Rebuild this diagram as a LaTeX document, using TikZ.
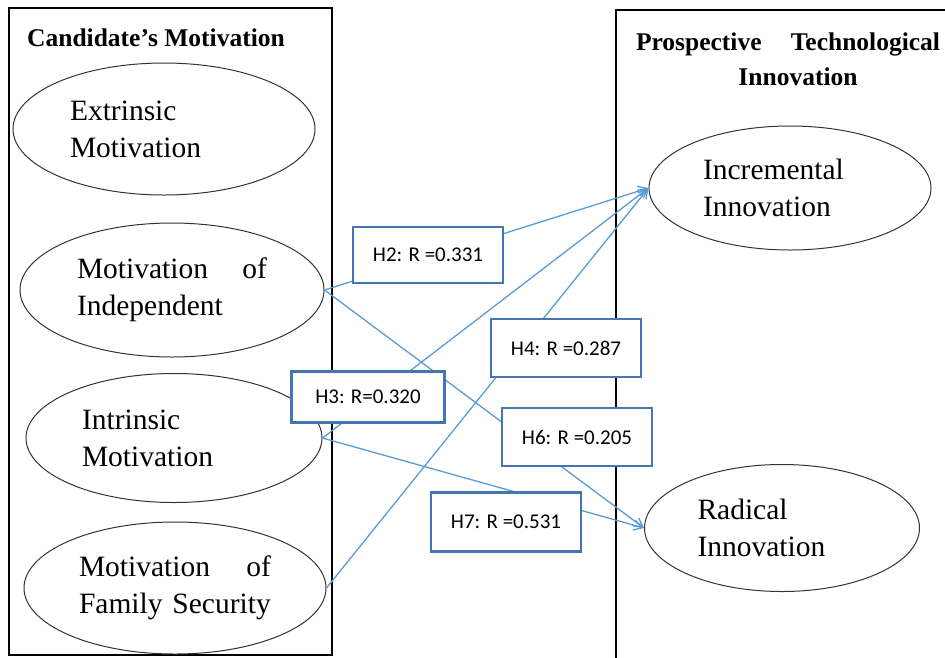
\documentclass[tikz,border=0pt]{standalone}
\usepackage{fontspec}
\setmainfont{Liberation Serif}
\newfontfamily\calibrifont{Carlito}
\usetikzlibrary{arrows.meta,shapes.geometric}
\definecolor{linkblue}{RGB}{91,155,213}
\definecolor{boxblue}{RGB}{70,118,175}
\hyphenpenalty=10000

\begin{document}
\begin{tikzpicture}[x=1pt,y=-1pt,
  factor/.style={draw=black!80, line width=1pt, ellipse, inner sep=0pt, align=left,
    font=\fontsize{29.5}{37}\selectfont},
  hbox/.style={draw=boxblue, line width=2.2pt, fill=white, inner sep=0pt,
    font=\calibrifont\fontsize{21}{25}\selectfont},
  link/.style={draw=linkblue, line width=1.3pt, -{Straight Barb[length=9pt,width=10pt]}},
  head/.style={inner sep=0pt, font=\bfseries\fontsize{25.5}{35}\selectfont}]

  \useasboundingbox (0,0) rectangle (945,657);

  % the two frames
  \draw[line width=1.3pt] (9,8) rectangle (332,655);
  \draw[line width=1.3pt] (960,10) -- (616,10) -- (616,670);

  \node[head, anchor=west] (lefthead) at (27,38) {Candidate’s Motivation};
  \node[head, text width=304pt, align=center] (righthead) at (788,59)
    {Prospective\hfill Technological\\\hspace*{20pt}Innovation};

  % motivations and innovations
  \foreach \n/\x/\y/\w/\h/\tw/\t in {
    extr/164/129/302/132/188/{Extrinsic\\Motivation},
    indep/172/290/304/134/190/{Motivation\hfill of\\Independent},
    intr/174/438/296/129/184/{Intrinsic\\Motivation},
    fam/175/588/302/132/192/{Motivation\hfill of\\Family Security},
    incr/790/188/282/124/174/{Incremental\\Innovation},
    rad/782/528/275/127/169/{Radical\\Innovation}}{
    \node[factor, minimum width=\w pt, minimum height=\h pt, text width=\tw pt] (\n) at (\x,\y) {\t};
  }

  \foreach \a/\b in {indep/incr, indep/rad, intr/incr, fam/incr, intr/rad}
    \draw[link] (\a.east) -- (\b.west);

  % hypotheses
  \foreach \n/\x/\y/\w/\h/\t in {
    h2/428/255/150/56/{H2: R =0.331},
    h3/368/397/153/51/{H3: R=0.320},
    h4/566/348/150/58/{H4: R =0.287},
    h6/577/437/150/58/{H6: R =0.205},
    h7/506/522/150/59/{H7: R =0.531}}{
    \node[hbox, minimum width=\w pt, minimum height=\h pt] (\n) at (\x,\y) {\t};
  }

\end{tikzpicture}
\end{document}
